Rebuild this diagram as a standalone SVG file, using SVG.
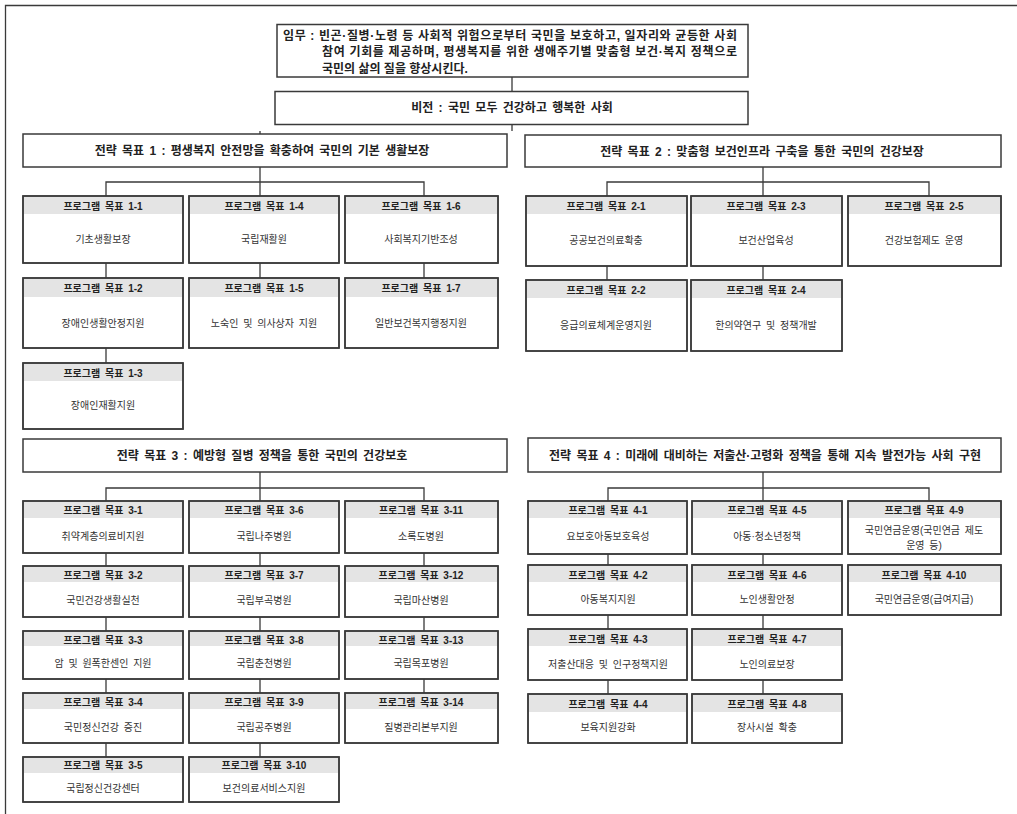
<svg xmlns="http://www.w3.org/2000/svg" width="1017" height="814" viewBox="0 0 1017 814">
<style>
text{font-family:"Liberation Sans","Noto Sans CJK KR",sans-serif;fill:#222}
.big{font-size:12px;font-weight:bold}
.ttl{font-size:10px;font-weight:bold;text-anchor:middle}
.body{font-size:10px;fill:#333;text-anchor:middle}
.mid{text-anchor:middle}
.box{fill:#fff;stroke:#3a3a3a;stroke-width:1.5}
.bd{fill:none;stroke:#3a3a3a;stroke-width:1.5}
.hdr{fill:#e4e4e4}
.ln{stroke:#3a3a3a;stroke-width:1.3;fill:none}
</style>
<rect width="1017" height="814" fill="#fff"/>
<path class="ln" d="M5.5,814 V5.5 H1017" stroke-width="1.6"/>

<g id="connectors">
<path class="ln" d="M512,77 V91 M512,124 V131 M260,131 V134"/>
<!-- S1 -->
<path class="ln" d="M260,167 V182 M106,196 V182 H424 V196 M260,182 V196 M106,263 V278 M106,348 V363 M260,263 V278 M424,263 V278"/>
<!-- S2 -->
<path class="ln" d="M763,167 V182 M607,196 V182 H929 V196 M763,182 V196 M607,266 V280 M763,266 V280"/>
<!-- S3 -->
<path class="ln" d="M260,472 V488 M106,501 V488 H424 V501 M260,488 V501 M106,553 V566 M106,617 V631 M106,679 V693 M106,743 V757 M260,553 V566 M260,617 V631 M260,679 V693 M260,743 V757 M424,553 V566 M424,617 V631 M424,679 V693"/>
<!-- S4 -->
<path class="ln" d="M763,472 V488 M608,501 V488 H929 V501 M763,488 V501 M608,554 V565 M608,615 V629 M608,680 V694 M763,554 V565 M763,615 V629 M763,680 V694"/>
</g>

<g id="mission">
<rect class="box" x="277" y="24.5" width="471" height="52.5"/>
<text class="big" x="283" y="39.5" textLength="454" lengthAdjust="spacing">임무 : 빈곤·질병·노령 등 사회적 위험으로부터 국민을 보호하고, 일자리와 균등한 사회</text>
<text class="big" x="322" y="56" textLength="415" lengthAdjust="spacing">참여 기회를 제공하며, 평생복지를 위한 생애주기별 맞춤형 보건·복지 정책으로</text>
<text class="big" x="322" y="72.5">국민의 삶의 질을 향상시킨다.</text>
</g>

<g id="vision">
<rect class="box" x="275" y="91.5" width="473" height="33"/>
<text class="big mid" x="512" y="108" dominant-baseline="central" word-spacing="2">비전 : 국민 모두 건강하고 행복한 사회</text>
</g>

<g id="s1">
<rect class="box" x="23" y="134" width="484" height="33"/>
<text class="big mid" x="262" y="151" dominant-baseline="central" word-spacing="2">전략 목표 1 : 평생복지 안전망을 확충하여 국민의 기본 생활보장</text>
</g>
<g id="s2">
<rect class="box" x="525" y="135" width="476" height="32"/>
<text class="big mid" x="762" y="152" dominant-baseline="central" word-spacing="2">전략 목표 2 : 맞춤형 보건인프라 구축을 통한 국민의 건강보장</text>
</g>
<g id="s3">
<rect class="box" x="23" y="439" width="484" height="33"/>
<text class="big mid" x="262" y="456" dominant-baseline="central" word-spacing="2">전략 목표 3 : 예방형 질병 정책을 통한 국민의 건강보호</text>
</g>
<g id="s4">
<rect class="box" x="528" y="438" width="473" height="34"/>
<text class="big mid" x="765" y="456" dominant-baseline="central" word-spacing="2">전략 목표 4 : 미래에 대비하는 저출산·고령화 정책을 통해 지속 발전가능 사회 구현</text>
</g>

<!-- Strategy 1 programs -->
<g id="p1-1"><rect class="box" x="23" y="196" width="160" height="67"/><rect class="hdr" x="24" y="197" width="158" height="17"/><rect class="bd" x="23" y="196" width="160" height="67"/><text class="ttl" x="103" y="206" dominant-baseline="central" word-spacing="2">프로그램 목표 1-1</text><text class="body" x="103" y="239" dominant-baseline="central">기초생활보장</text></g>
<g id="p1-4"><rect class="box" x="189" y="196" width="150" height="67"/><rect class="hdr" x="190" y="197" width="148" height="17"/><rect class="bd" x="189" y="196" width="150" height="67"/><text class="ttl" x="264" y="206" dominant-baseline="central" word-spacing="2">프로그램 목표 1-4</text><text class="body" x="264" y="239" dominant-baseline="central">국립재활원</text></g>
<g id="p1-6"><rect class="box" x="345" y="196" width="153" height="67"/><rect class="hdr" x="346" y="197" width="151" height="17"/><rect class="bd" x="345" y="196" width="153" height="67"/><text class="ttl" x="421" y="206" dominant-baseline="central" word-spacing="2">프로그램 목표 1-6</text><text class="body" x="421" y="239" dominant-baseline="central">사회복지기반조성</text></g>
<g id="p1-2"><rect class="box" x="23" y="278" width="160" height="70"/><rect class="hdr" x="24" y="279" width="158" height="18"/><rect class="bd" x="23" y="278" width="160" height="70"/><text class="ttl" x="103" y="288" dominant-baseline="central" word-spacing="2">프로그램 목표 1-2</text><text class="body" x="103" y="323" dominant-baseline="central">장애인생활안정지원</text></g>
<g id="p1-5"><rect class="box" x="189" y="278" width="150" height="70"/><rect class="hdr" x="190" y="279" width="148" height="18"/><rect class="bd" x="189" y="278" width="150" height="70"/><text class="ttl" x="264" y="288" dominant-baseline="central" word-spacing="2">프로그램 목표 1-5</text><text class="body" x="264" y="323" dominant-baseline="central" word-spacing="2">노숙인 및 의사상자 지원</text></g>
<g id="p1-7"><rect class="box" x="345" y="278" width="153" height="70"/><rect class="hdr" x="346" y="279" width="151" height="18"/><rect class="bd" x="345" y="278" width="153" height="70"/><text class="ttl" x="421" y="288" dominant-baseline="central" word-spacing="2">프로그램 목표 1-7</text><text class="body" x="421" y="323" dominant-baseline="central">일반보건복지행정지원</text></g>
<g id="p1-3"><rect class="box" x="23" y="363" width="160" height="66"/><rect class="hdr" x="24" y="364" width="158" height="17"/><rect class="bd" x="23" y="363" width="160" height="66"/><text class="ttl" x="103" y="373" dominant-baseline="central" word-spacing="2">프로그램 목표 1-3</text><text class="body" x="103" y="405" dominant-baseline="central">장애인재활지원</text></g>

<!-- Strategy 2 programs -->
<g id="p2-1"><rect class="box" x="526" y="196" width="161" height="70"/><rect class="hdr" x="527" y="197" width="159" height="17"/><rect class="bd" x="526" y="196" width="161" height="70"/><text class="ttl" x="606" y="206" dominant-baseline="central" word-spacing="2">프로그램 목표 2-1</text><text class="body" x="606" y="240" dominant-baseline="central">공공보건의료확충</text></g>
<g id="p2-3"><rect class="box" x="691" y="196" width="151" height="70"/><rect class="hdr" x="692" y="197" width="149" height="17"/><rect class="bd" x="691" y="196" width="151" height="70"/><text class="ttl" x="766" y="206" dominant-baseline="central" word-spacing="2">프로그램 목표 2-3</text><text class="body" x="766" y="240" dominant-baseline="central">보건산업육성</text></g>
<g id="p2-5"><rect class="box" x="848" y="196" width="153" height="70"/><rect class="hdr" x="849" y="197" width="151" height="17"/><rect class="bd" x="848" y="196" width="153" height="70"/><text class="ttl" x="924" y="206" dominant-baseline="central" word-spacing="2">프로그램 목표 2-5</text><text class="body" x="924" y="240" dominant-baseline="central" word-spacing="2">건강보험제도 운영</text></g>
<g id="p2-2"><rect class="box" x="526" y="280" width="161" height="71"/><rect class="hdr" x="527" y="281" width="159" height="17"/><rect class="bd" x="526" y="280" width="161" height="71"/><text class="ttl" x="606" y="290" dominant-baseline="central" word-spacing="2">프로그램 목표 2-2</text><text class="body" x="606" y="325" dominant-baseline="central">응급의료체계운영지원</text></g>
<g id="p2-4"><rect class="box" x="691" y="280" width="151" height="71"/><rect class="hdr" x="692" y="281" width="149" height="17"/><rect class="bd" x="691" y="280" width="151" height="71"/><text class="ttl" x="766" y="290" dominant-baseline="central" word-spacing="2">프로그램 목표 2-4</text><text class="body" x="766" y="325" dominant-baseline="central" word-spacing="2">한의약연구 및 정책개발</text></g>

<!-- Strategy 3 programs -->
<g id="p3-1"><rect class="box" x="23" y="501" width="160" height="52"/><rect class="hdr" x="24" y="502" width="158" height="16"/><rect class="bd" x="23" y="501" width="160" height="52"/><text class="ttl" x="103" y="510" dominant-baseline="central" word-spacing="2">프로그램 목표 3-1</text><text class="body" x="103" y="536" dominant-baseline="central">취약계층의료비지원</text></g>
<g id="p3-6"><rect class="box" x="189" y="501" width="150" height="52"/><rect class="hdr" x="190" y="502" width="148" height="16"/><rect class="bd" x="189" y="501" width="150" height="52"/><text class="ttl" x="264" y="510" dominant-baseline="central" word-spacing="2">프로그램 목표 3-6</text><text class="body" x="264" y="536" dominant-baseline="central">국립나주병원</text></g>
<g id="p3-11"><rect class="box" x="345" y="501" width="153" height="52"/><rect class="hdr" x="346" y="502" width="151" height="16"/><rect class="bd" x="345" y="501" width="153" height="52"/><text class="ttl" x="421" y="510" dominant-baseline="central" word-spacing="2">프로그램 목표 3-11</text><text class="body" x="421" y="536" dominant-baseline="central">소록도병원</text></g>
<g id="p3-2"><rect class="box" x="23" y="566" width="160" height="51"/><rect class="hdr" x="24" y="567" width="158" height="15"/><rect class="bd" x="23" y="566" width="160" height="51"/><text class="ttl" x="103" y="575" dominant-baseline="central" word-spacing="2">프로그램 목표 3-2</text><text class="body" x="103" y="600" dominant-baseline="central">국민건강생활실천</text></g>
<g id="p3-7"><rect class="box" x="189" y="566" width="150" height="51"/><rect class="hdr" x="190" y="567" width="148" height="15"/><rect class="bd" x="189" y="566" width="150" height="51"/><text class="ttl" x="264" y="575" dominant-baseline="central" word-spacing="2">프로그램 목표 3-7</text><text class="body" x="264" y="600" dominant-baseline="central">국립부곡병원</text></g>
<g id="p3-12"><rect class="box" x="345" y="566" width="153" height="51"/><rect class="hdr" x="346" y="567" width="151" height="15"/><rect class="bd" x="345" y="566" width="153" height="51"/><text class="ttl" x="421" y="575" dominant-baseline="central" word-spacing="2">프로그램 목표 3-12</text><text class="body" x="421" y="600" dominant-baseline="central">국립마산병원</text></g>
<g id="p3-3"><rect class="box" x="23" y="631" width="160" height="48"/><rect class="hdr" x="24" y="632" width="158" height="14"/><rect class="bd" x="23" y="631" width="160" height="48"/><text class="ttl" x="103" y="640" dominant-baseline="central" word-spacing="2">프로그램 목표 3-3</text><text class="body" x="103" y="663" dominant-baseline="central" word-spacing="2">암 및 원폭한센인 지원</text></g>
<g id="p3-8"><rect class="box" x="189" y="631" width="150" height="48"/><rect class="hdr" x="190" y="632" width="148" height="14"/><rect class="bd" x="189" y="631" width="150" height="48"/><text class="ttl" x="264" y="640" dominant-baseline="central" word-spacing="2">프로그램 목표 3-8</text><text class="body" x="264" y="663" dominant-baseline="central">국립춘천병원</text></g>
<g id="p3-13"><rect class="box" x="345" y="631" width="153" height="48"/><rect class="hdr" x="346" y="632" width="151" height="14"/><rect class="bd" x="345" y="631" width="153" height="48"/><text class="ttl" x="421" y="640" dominant-baseline="central" word-spacing="2">프로그램 목표 3-13</text><text class="body" x="421" y="663" dominant-baseline="central">국립목포병원</text></g>
<g id="p3-4"><rect class="box" x="23" y="693" width="160" height="50"/><rect class="hdr" x="24" y="694" width="158" height="15"/><rect class="bd" x="23" y="693" width="160" height="50"/><text class="ttl" x="103" y="702" dominant-baseline="central" word-spacing="2">프로그램 목표 3-4</text><text class="body" x="103" y="727" dominant-baseline="central" word-spacing="2">국민정신건강 증진</text></g>
<g id="p3-9"><rect class="box" x="189" y="693" width="150" height="50"/><rect class="hdr" x="190" y="694" width="148" height="15"/><rect class="bd" x="189" y="693" width="150" height="50"/><text class="ttl" x="264" y="702" dominant-baseline="central" word-spacing="2">프로그램 목표 3-9</text><text class="body" x="264" y="727" dominant-baseline="central">국립공주병원</text></g>
<g id="p3-14"><rect class="box" x="345" y="693" width="153" height="50"/><rect class="hdr" x="346" y="694" width="151" height="15"/><rect class="bd" x="345" y="693" width="153" height="50"/><text class="ttl" x="421" y="702" dominant-baseline="central" word-spacing="2">프로그램 목표 3-14</text><text class="body" x="421" y="727" dominant-baseline="central">질병관리본부지원</text></g>
<g id="p3-5"><rect class="box" x="23" y="757" width="160" height="45"/><rect class="hdr" x="24" y="758" width="158" height="15"/><rect class="bd" x="23" y="757" width="160" height="45"/><text class="ttl" x="103" y="765" dominant-baseline="central" word-spacing="2">프로그램 목표 3-5</text><text class="body" x="103" y="788" dominant-baseline="central">국립정신건강센터</text></g>
<g id="p3-10"><rect class="box" x="189" y="757" width="150" height="45"/><rect class="hdr" x="190" y="758" width="148" height="15"/><rect class="bd" x="189" y="757" width="150" height="45"/><text class="ttl" x="264" y="765" dominant-baseline="central" word-spacing="2">프로그램 목표 3-10</text><text class="body" x="264" y="788" dominant-baseline="central">보건의료서비스지원</text></g>

<!-- Strategy 4 programs -->
<g id="p4-1"><rect class="box" x="528" y="501" width="159" height="53"/><rect class="hdr" x="529" y="502" width="157" height="16"/><rect class="bd" x="528" y="501" width="159" height="53"/><text class="ttl" x="608" y="510" dominant-baseline="central" word-spacing="2">프로그램 목표 4-1</text><text class="body" x="608" y="536" dominant-baseline="central">요보호아동보호육성</text></g>
<g id="p4-5"><rect class="box" x="692" y="501" width="150" height="53"/><rect class="hdr" x="693" y="502" width="148" height="16"/><rect class="bd" x="692" y="501" width="150" height="53"/><text class="ttl" x="767" y="510" dominant-baseline="central" word-spacing="2">프로그램 목표 4-5</text><text class="body" x="767" y="536" dominant-baseline="central">아동·청소년정책</text></g>
<g id="p4-9"><rect class="box" x="848" y="501" width="153" height="53"/><rect class="hdr" x="849" y="502" width="151" height="16"/><rect class="bd" x="848" y="501" width="153" height="53"/><text class="ttl" x="924" y="510" dominant-baseline="central" word-spacing="2">프로그램 목표 4-9</text><text class="body" x="924" y="530" dominant-baseline="central" word-spacing="2">국민연금운영(국민연금 제도</text><text class="body" x="924" y="545" dominant-baseline="central" word-spacing="2">운영 등)</text></g>
<g id="p4-2"><rect class="box" x="528" y="565" width="159" height="50"/><rect class="hdr" x="529" y="566" width="157" height="16"/><rect class="bd" x="528" y="565" width="159" height="50"/><text class="ttl" x="608" y="575" dominant-baseline="central" word-spacing="2">프로그램 목표 4-2</text><text class="body" x="608" y="599" dominant-baseline="central">아동복지지원</text></g>
<g id="p4-6"><rect class="box" x="692" y="565" width="150" height="50"/><rect class="hdr" x="693" y="566" width="148" height="16"/><rect class="bd" x="692" y="565" width="150" height="50"/><text class="ttl" x="767" y="575" dominant-baseline="central" word-spacing="2">프로그램 목표 4-6</text><text class="body" x="767" y="599" dominant-baseline="central">노인생활안정</text></g>
<g id="p4-10"><rect class="box" x="848" y="565" width="153" height="50"/><rect class="hdr" x="849" y="566" width="151" height="16"/><rect class="bd" x="848" y="565" width="153" height="50"/><text class="ttl" x="924" y="575" dominant-baseline="central" word-spacing="2">프로그램 목표 4-10</text><text class="body" x="924" y="599" dominant-baseline="central">국민연금운영(급여지급)</text></g>
<g id="p4-3"><rect class="box" x="528" y="629" width="159" height="51"/><rect class="hdr" x="529" y="630" width="157" height="16"/><rect class="bd" x="528" y="629" width="159" height="51"/><text class="ttl" x="608" y="639" dominant-baseline="central" word-spacing="2">프로그램 목표 4-3</text><text class="body" x="608" y="664" dominant-baseline="central" word-spacing="2">저출산대응 및 인구정책지원</text></g>
<g id="p4-7"><rect class="box" x="692" y="629" width="150" height="51"/><rect class="hdr" x="693" y="630" width="148" height="16"/><rect class="bd" x="692" y="629" width="150" height="51"/><text class="ttl" x="767" y="639" dominant-baseline="central" word-spacing="2">프로그램 목표 4-7</text><text class="body" x="767" y="664" dominant-baseline="central">노인의료보장</text></g>
<g id="p4-4"><rect class="box" x="528" y="694" width="159" height="49"/><rect class="hdr" x="529" y="695" width="157" height="17"/><rect class="bd" x="528" y="694" width="159" height="49"/><text class="ttl" x="608" y="704" dominant-baseline="central" word-spacing="2">프로그램 목표 4-4</text><text class="body" x="608" y="727" dominant-baseline="central">보육지원강화</text></g>
<g id="p4-8"><rect class="box" x="692" y="694" width="150" height="49"/><rect class="hdr" x="693" y="695" width="148" height="17"/><rect class="bd" x="692" y="694" width="150" height="49"/><text class="ttl" x="767" y="704" dominant-baseline="central" word-spacing="2">프로그램 목표 4-8</text><text class="body" x="767" y="727" dominant-baseline="central" word-spacing="2">장사시설 확충</text></g>
</svg>
